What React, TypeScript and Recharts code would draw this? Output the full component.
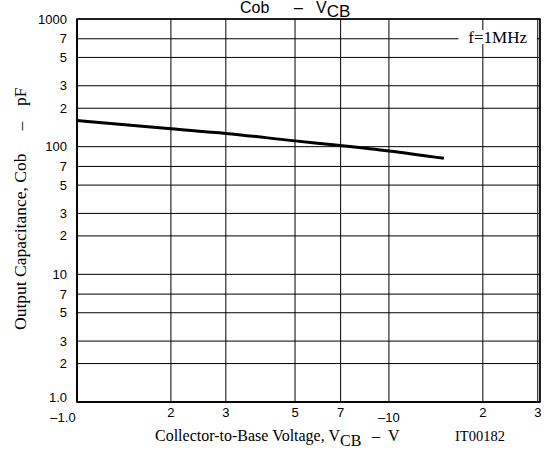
import { LineChart, Line, XAxis, YAxis, CartesianGrid, ReferenceArea } from "recharts"

// collector-to-base voltage (V) and output capacitance (pF)
const vcb = [1, 2, 3, 5, 7, 10, 15]
const cob = [160, 138, 127, 111, 102, 92.5, 81]

const xTicks = [1, 2, 3, 5, 7, 10, 20, 30]
const xTickText = ["–1.0", "2", "3", "5", "7", "–10", "2", "3"]

const yTicks = [1, 2, 3, 5, 7, 10, 20, 30, 50, 70, 100, 200, 300, 500, 700, 1000]
const yTickText = ["1.0", "2", "3", "5", "7", "10", "2", "3", "5", "7", "100", "2", "3", "5", "7", "1000"]

const data = vcb.map((v, i) => ({ v, c: cob[i] }))

const SANS = "'Liberation Sans', Arial, sans-serif"
const SERIF = "'Liberation Serif', 'Times New Roman', serif"

function XTick(props: any) {
  const { x, y, payload } = props
  const i = xTicks.indexOf(payload.value)
  const txt = xTickText[i]
  const neg = txt.startsWith("–")
  return (
    <text
      x={x + (payload.value === 1 ? -14 : 0)}
      y={y}
      dy={neg ? 20 : 15}
      textAnchor="middle"
      fontFamily={SANS}
      fontSize={13}
      fill="#000"
    >
      {txt}
    </text>
  )
}

function YTick(props: any) {
  const { x, y, payload } = props
  const i = yTicks.indexOf(payload.value)
  return (
    <text
      x={x - 10}
      y={y}
      dy={payload.value === 1 ? -0.5 : 4.5}
      textAnchor="end"
      fontFamily={SANS}
      fontSize={13}
      fill="#000"
    >
      {yTickText[i]}
    </text>
  )
}

export default function App() {
  return (
    <div style={{ position: "absolute", left: 0, top: 0, background: "#fff" }}>
      <LineChart
        width={551}
        height={450}
        data={data}
        margin={{ top: 19, right: 11, bottom: 0, left: 0 }}
      >
        <CartesianGrid stroke="#000" strokeWidth={1} />
        <XAxis
          dataKey="v"
          type="number"
          scale="log"
          domain={[1, 30.5]}
          ticks={xTicks}
          interval={0}
          allowDataOverflow
          height={48}
          tickSize={0}
          tickMargin={0}
          tickLine={false}
          tick={<XTick />}
          axisLine={{ stroke: "#000", strokeWidth: 1.5 }}
        />
        <YAxis
          type="number"
          scale="log"
          domain={[1, 1000]}
          ticks={yTicks}
          interval={0}
          allowDataOverflow
          width={77}
          tickSize={0}
          tickMargin={0}
          tickLine={false}
          tick={<YTick />}
          axisLine={{ stroke: "#000", strokeWidth: 1.5 }}
        />
        <ReferenceArea
          x1={16.7}
          x2={29.8}
          y1={637}
          y2={820}
          fill="#fff"
          fillOpacity={1}
          stroke="none"
          label={{
            value: "f=1MHz",
            position: "center",
            fontFamily: SERIF,
            fontSize: 17,
            fill: "#000",
          }}
        />
        <ReferenceArea
          x1={1}
          x2={30.5}
          y1={1}
          y2={1000}
          fill="none"
          stroke="#000"
          strokeWidth={1.5}
        />
        <Line
          dataKey="c"
          type="monotone"
          stroke="#000"
          strokeWidth={3}
          dot={false}
          activeDot={false}
          isAnimationActive={false}
        />
        <text x={240} y={13} fontFamily={SANS} fontSize={16} fill="#000">
          Cob
          <tspan x={294}>–</tspan>
          <tspan x={316}>V</tspan>
          <tspan dy={4} fontSize={17}>CB</tspan>
        </text>
        <text x={155} y={441} fontFamily={SERIF} fontSize={16} fill="#000">
          Collector-to-Base Voltage, V
          <tspan dy={5}>CB</tspan>
          <tspan x={372} dy={-5}>–</tspan>
          <tspan x={388}>V</tspan>
        </text>
        <text x={455} y={441} fontFamily={SERIF} fontSize={14.5} fill="#000">
          IT00182
        </text>
        <g transform="rotate(-90 26 210)" fontFamily={SERIF} fontSize={17.5} fill="#000">
          <text x={-94} y={210}>Output Capacitance, Cob</text>
          <text x={110} y={210} textAnchor="middle">–</text>
          <text x={130} y={210}>pF</text>
        </g>
      </LineChart>
    </div>
  )
}
